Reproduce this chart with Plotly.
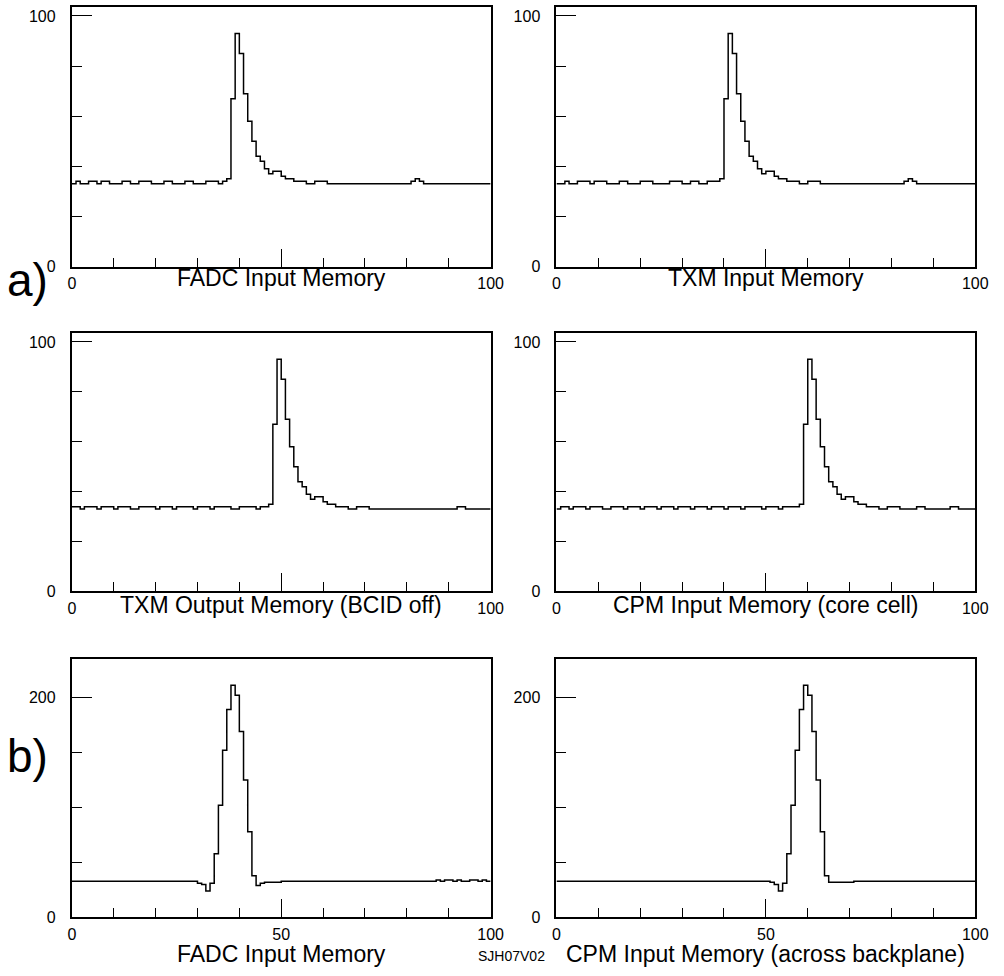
import plotly.graph_objects as go

# ---------------- data (100 bins, 0..100) ----------------
bin_edges = list(range(101))

fadc_a = [33,34,33,33,34,34,33,34,34,33,
          33,33,34,34,33,33,34,34,34,33,
          33,33,34,34,33,33,33,34,34,33,
          33,33,34,34,34,33,34,35,
          67,93,85,69,58,50,44,42,39,37,38,38,
          36,35,35,34,34,34,33,33,34,34,34,
          33,33,33,33,33,33,33,33,33,
          33,33,33,33,33,33,33,33,33,33,
          33,34,35,34,33,33,33,33,33,33,
          33,33,33,33,33,33,33,33,33,33]

txm_a = [33,33,34,33,33,34,34,34,33,34,
         34,34,33,33,33,34,34,33,33,33,
         34,34,34,33,33,33,33,34,34,34,
         33,33,34,34,33,33,34,34,34,35,
         67,93,85,69,58,50,44,42,39,37,38,38,
         36,35,35,34,34,34,33,33,34,34,34,
         33,33,33,33,33,33,33,
         33,33,33,33,33,33,33,33,33,33,
         33,33,33,34,35,34,33,33,33,33,
         33,33,33,33,33,33,33,33,33,33]

txm_out = [34,34,33,34,34,34,33,34,34,34,
           33,34,34,34,33,33,34,34,34,34,
           33,34,34,34,33,34,34,34,34,33,
           34,34,34,33,34,34,34,34,33,33,
           34,34,34,34,33,34,34,
           35,
           67,93,85,69,58,50,44,42,39,37,38,38,
           36,35,35,34,34,34,33,33,34,34,34,
           33,33,33,33,33,33,33,33,33,
           33,33,33,33,33,33,33,33,33,33,
           33,33,34,34,33,33,33,33,33,33]

cpm_core = [33,34,34,33,34,34,34,33,34,34,
            34,33,33,34,34,34,33,34,34,34,
            33,34,34,34,33,34,34,34,33,34,
            34,34,33,34,34,34,33,34,34,34,
            33,34,34,34,33,34,34,34,34,33,
            34,34,34,33,34,34,34,34,
            35,
            67,93,85,69,58,50,44,42,39,37,38,38,
            36,35,35,34,34,34,33,33,34,34,34,
            33,33,33,33,34,34,33,33,33,33,33,33,34,34,33,33,33,33]

fadc_b = [33]*30 + \
         [31,30,24,31,58,102,152,189,211,202,169,125,78,38,29,31,32,32,32,32] + \
         [33]*37 + \
         [34,33,34,34,33,34,33,33,34,34,33,34,33]

cpm_b = [33]*51 + \
        [32,30,24,31,58,102,152,189,211,202,169,125,78,38] + \
        [32,32,32,32,32,32] + \
        [33]*29

panels = [
    ("FADC Input Memory", fadc_a),
    ("TXM Input Memory", txm_a),
    ("TXM Output Memory (BCID off)", txm_out),
    ("CPM Input Memory (core cell)", cpm_core),
    ("FADC Input Memory", fadc_b),
    ("CPM Input Memory (across backplane)", cpm_b),
]

# ---------------- layout geometry (reference pixels -> paper fractions) ----------------
W, H = 1004, 976
cols_px = [(69, 495), (562, 988)]
rows_px = [(7, 269), (336, 597), (665, 926)]
row_ymax = [103.6, 103.6, 235]
row_major = [[0, 100], [0, 100], [0, 200]]
row_minor = [[20, 40, 60, 80], [20, 40, 60, 80], [50, 100, 150]]
row_xlabels = [["0", "", "100"], ["0", "", "100"], ["0", "50", "100"]]
title_y_px = [281, 611, 963]

FONT = "Liberation Sans, Arial, Helvetica, sans-serif"

def px_x(p):
    return p / W

def px_y(p):
    return 1 - p / H

fig = go.Figure()
layout = dict(
    autosize=True,
    margin=dict(l=0, r=0, t=0, b=0, pad=0),
    paper_bgcolor="white", plot_bgcolor="white",
    showlegend=False,
    font=dict(family=FONT, color="black", size=16),
)
annotations = []

for i, (title, vals) in enumerate(panels):
    r, c = divmod(i, 2)
    n = i + 1
    xa = "xaxis" if n == 1 else f"xaxis{n}"
    ya = "yaxis" if n == 1 else f"yaxis{n}"
    xref = "x" if n == 1 else f"x{n}"
    yref = "y" if n == 1 else f"y{n}"
    fig.add_trace(go.Scatter(
        x=bin_edges, y=vals + [vals[-1]],
        mode="lines", line=dict(shape="hv", color="black", width=1.5),
        xaxis=xref, yaxis=yref, hoverinfo="skip",
    ))
    x0, x1 = cols_px[c]
    y0, y1 = rows_px[r]
    layout[xa] = dict(
        domain=[px_x(x0), px_x(x1)], range=[0, 100], anchor=yref,
        showline=True, mirror=True, linecolor="black", linewidth=2,
        showgrid=False, zeroline=False,
        tickmode="array", tickvals=[0, 50, 100], ticktext=row_xlabels[r],
        ticks="inside", ticklen=18, tickwidth=1.3, tickcolor="black",
        ticklabelstandoff=1,
        minor=dict(tickvals=[10, 20, 30, 40, 60, 70, 80, 90], ticks="inside",
                   ticklen=9, tickwidth=1.3, tickcolor="black"),
        tickfont=dict(family=FONT, size=16, color="black"),
        fixedrange=True,
    )
    layout[ya] = dict(
        domain=[px_y(y1), px_y(y0)], range=[0, row_ymax[r]], anchor=xref,
        showline=True, mirror=True, linecolor="black", linewidth=2,
        showgrid=False, zeroline=False,
        tickmode="array", tickvals=row_major[r],
        ticktext=[str(v) for v in row_major[r]],
        ticks="inside", ticklen=20, tickwidth=1.3, tickcolor="black",
        ticklabelstandoff=11,
        minor=dict(tickvals=row_minor[r], ticks="inside",
                   ticklen=10, tickwidth=1.3, tickcolor="black"),
        tickfont=dict(family=FONT, size=16, color="black"),
        fixedrange=True,
    )
    annotations.append(dict(
        text=title, xref="paper", yref="paper",
        x=px_x((x0 + x1) / 2), y=px_y(title_y_px[r]),
        xanchor="center", yanchor="middle", showarrow=False,
        font=dict(family=FONT, size=23, color="black"),
    ))

annotations.append(dict(text="a)", xref="paper", yref="paper",
                        x=px_x(24), y=px_y(283), xanchor="center", yanchor="middle",
                        showarrow=False, font=dict(family=FONT, size=46, color="black")))
annotations.append(dict(text="b)", xref="paper", yref="paper",
                        x=px_x(24), y=px_y(763), xanchor="center", yanchor="middle",
                        showarrow=False, font=dict(family=FONT, size=46, color="black")))
annotations.append(dict(text="SJH07V02", xref="paper", yref="paper",
                        x=px_x(516), y=px_y(965), xanchor="center", yanchor="middle",
                        showarrow=False, font=dict(family=FONT, size=14, color="black")))

layout["annotations"] = annotations
fig.update_layout(**layout)
fig.write_html(
    "out.html",
    default_width="100vw",
    default_height="100vh",
    config={"displayModeBar": False, "responsive": True},
    post_script="document.body.style.margin='0';"
                "document.documentElement.style.overflow='hidden';",
)
